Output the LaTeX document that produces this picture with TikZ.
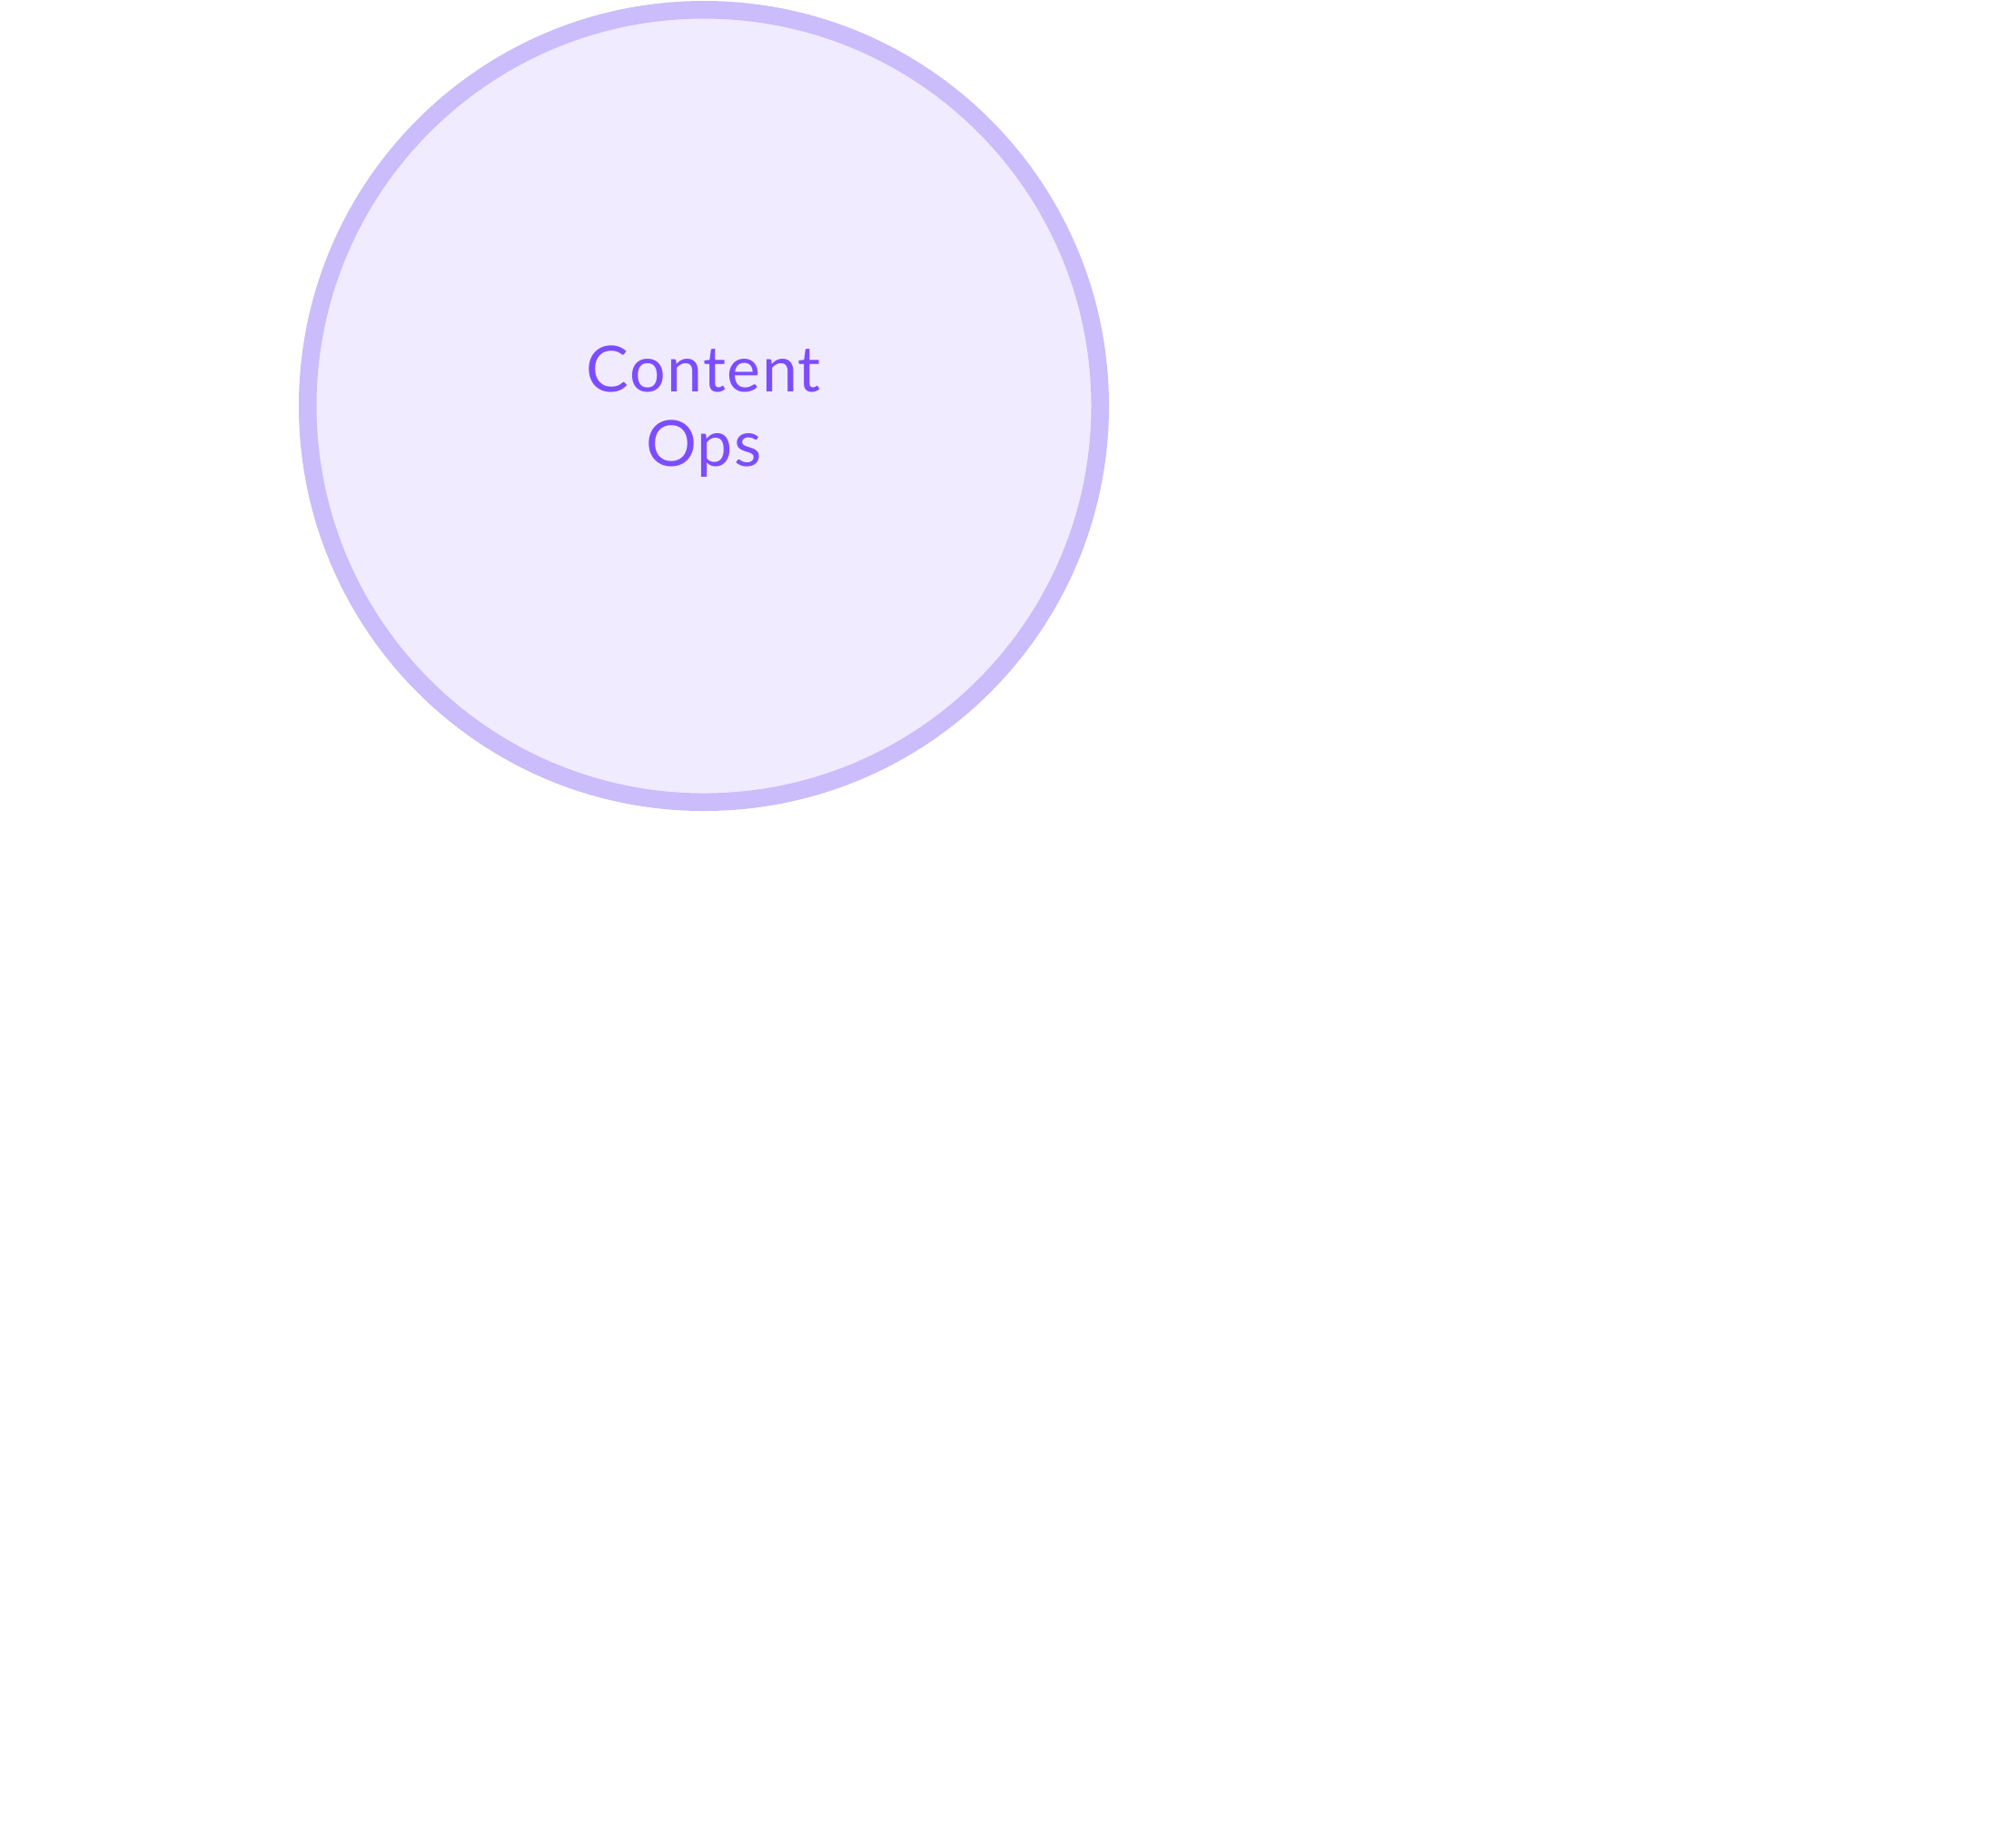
\documentclass[tikz,border=0pt]{standalone}
\usepackage{fontspec}
\setmainfont{Lato}[LetterSpace=2.0]

\definecolor{opsfill}{HTML}{F0EBFF}
\definecolor{opsline}{HTML}{CBBCFC}
\definecolor{opstext}{HTML}{7C4DFF}

\begin{document}
\begin{tikzpicture}[
  disk/.style={circle, draw=opsline, fill=opsfill, line width=0.195cm,
    minimum size=8.725cm, inner sep=0pt},
  lbl/.style={text=opstext, align=center, inner sep=0pt,
    font=\fontsize{19.9pt}{23.3pt}\selectfont}
]

\useasboundingbox (0,0) rectangle (22.12,-20.34);

\node (opsdisk) [disk] at (7.75,-4.47) {};
\node (opslabel) [lbl, yshift=-0.065cm] at (opsdisk.center) {Content\\Ops};

\end{tikzpicture}
\end{document}
